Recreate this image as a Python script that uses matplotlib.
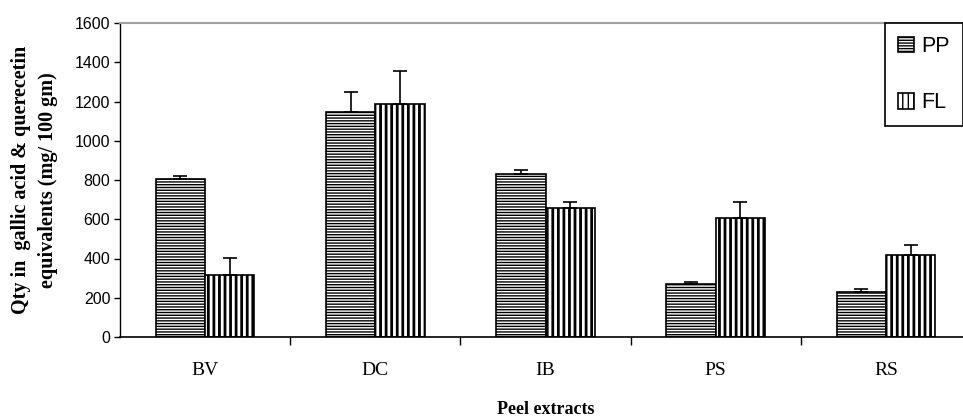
import numpy as np
import matplotlib
matplotlib.use("Agg")
import matplotlib.pyplot as plt

# values
categories = ["BV", "DC", "IB", "PS", "RS"]
pp_vals = [806, 1146, 832, 268, 229]
pp_err = [15, 102, 19, 14, 17]
fl_vals = [316, 1189, 656, 608, 418]
fl_err = [88, 168, 30, 78, 51]

plt.rcParams["hatch.linewidth"] = 1.0

fig = plt.figure(figsize=(9.63, 4.17), dpi=100)
ax = fig.add_axes([120 / 963, 80 / 417, 851 / 963, 314 / 417])

x = np.arange(len(categories))
w = 0.29

b1 = ax.bar(x - w / 2, pp_vals, w, color="white", edgecolor="black",
            hatch="------", linewidth=1.2, label="PP")
b2 = ax.bar(x + w / 2, fl_vals, w, color="white", edgecolor="black",
            hatch="|||", linewidth=1.2, label="FL")
for p in b2:
    if hasattr(p, "set_hatch_linewidth"):
        p.set_hatch_linewidth(2.0)

# error bars (upper only)
ax.errorbar(x - w / 2, pp_vals, yerr=[np.zeros(5), pp_err], fmt="none",
            ecolor="black", elinewidth=1.2, capsize=5, capthick=1.2)
ax.errorbar(x + w / 2, fl_vals, yerr=[np.zeros(5), fl_err], fmt="none",
            ecolor="black", elinewidth=1.2, capsize=5, capthick=1.2)

ax.set_xlim(-0.5, 4.5)
ax.set_ylim(0, 1600)
ax.set_yticks(range(0, 1601, 200))
ax.set_yticklabels([str(v) for v in range(0, 1601, 200)],
                   family="Liberation Sans", fontsize=11.5)
ax.tick_params(axis="y", direction="out", length=4, width=1, pad=3)

ax.set_xticks(x)
ax.set_xticklabels(categories, family="Liberation Serif", fontsize=14)
ax.tick_params(axis="x", which="major", length=0, pad=18)
ax.set_xticks(np.arange(0.5, 4.0, 1.0), minor=True)
ax.tick_params(axis="x", which="minor", direction="out", length=6, width=1)

ax.spines["top"].set_color("#a0a0a0")
ax.spines["top"].set_linewidth(1.5)
ax.spines["right"].set_visible(False)
ax.spines["left"].set_linewidth(1)
ax.spines["bottom"].set_linewidth(1.2)

ax.set_ylabel("Qty in  gallic acid & querecetin\nequivalents (mg/ 100 gm)",
              family="Liberation Serif", fontweight="bold", fontsize=14.5,
              linespacing=1.45, labelpad=12)
ax.set_xlabel("Peel extracts", family="Liberation Serif",
              fontweight="bold", fontsize=13, labelpad=16)

leg = ax.legend(loc="upper left", bbox_to_anchor=(885 / 963, 1 - 23 / 417),
                bbox_transform=fig.transFigure, fancybox=False,
                edgecolor="black", framealpha=1, borderaxespad=0,
                handlelength=0.75, handleheight=0.75, labelspacing=1.65,
                handletextpad=0.35, borderpad=0.6,
                prop={"family": "Liberation Sans", "size": 15.5})
leg.get_frame().set_linewidth(1.2)

fig.savefig("out.png", dpi=100)
